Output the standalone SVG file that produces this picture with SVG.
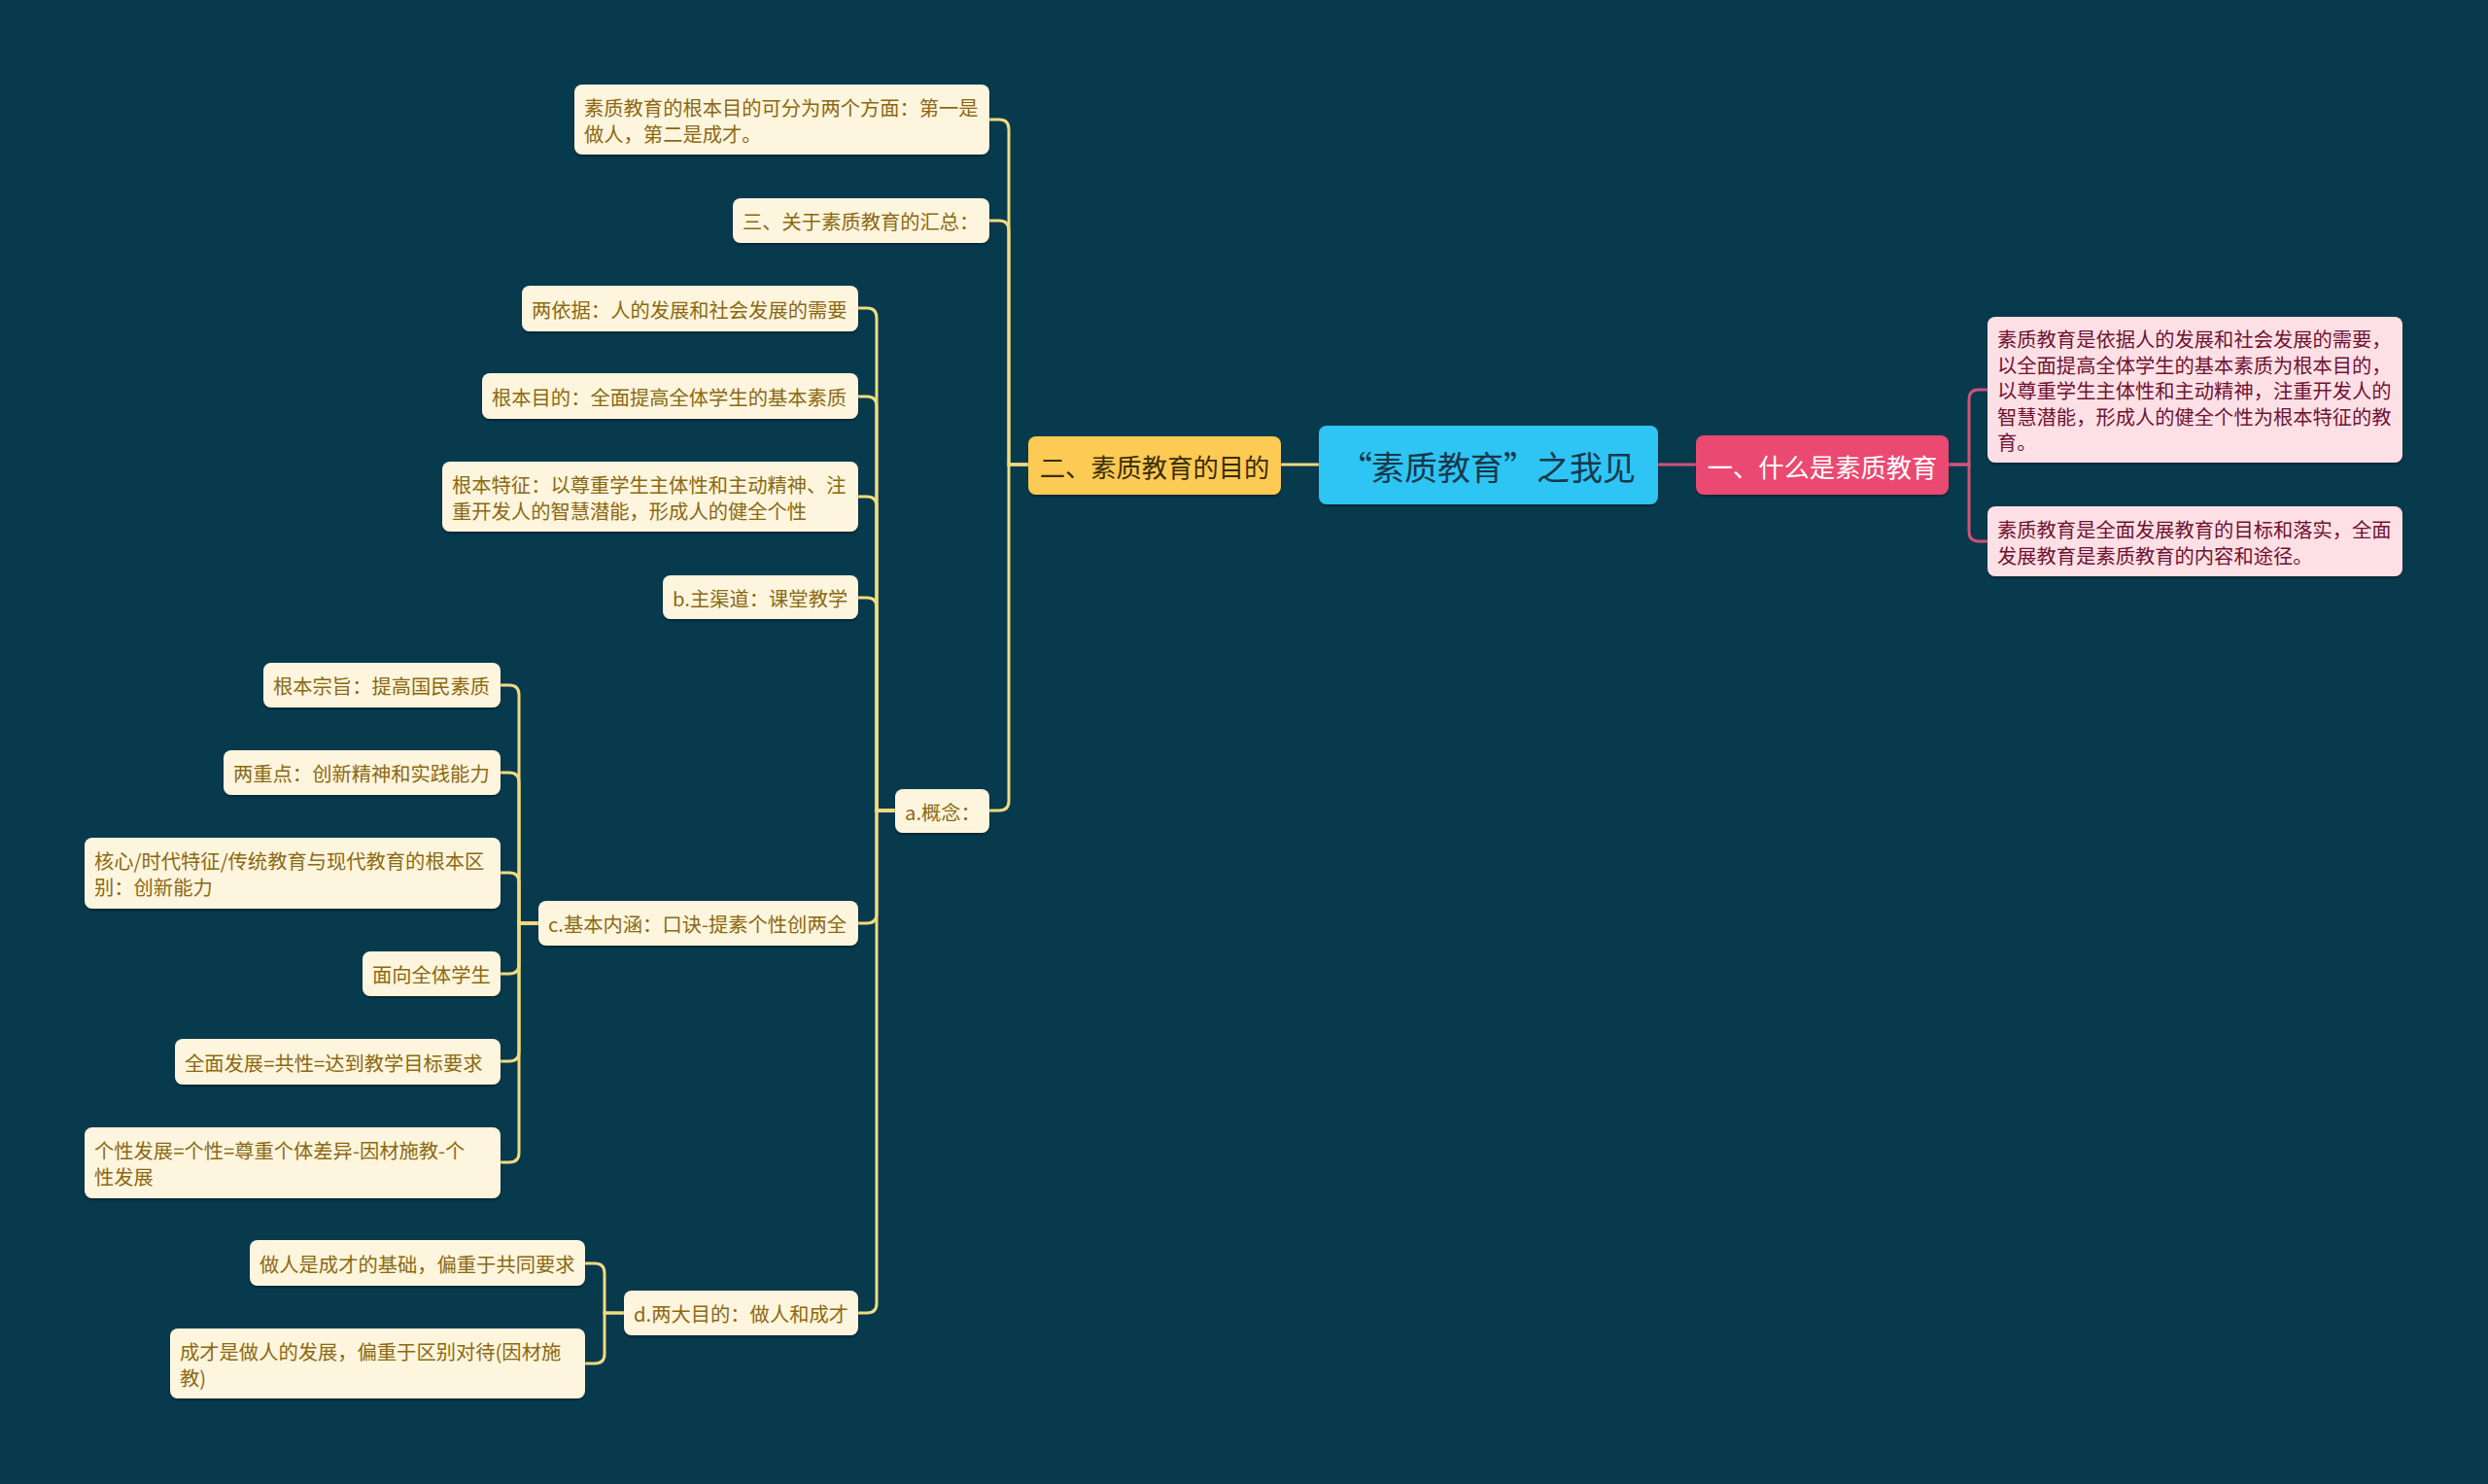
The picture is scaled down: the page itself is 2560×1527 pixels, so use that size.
<svg xmlns="http://www.w3.org/2000/svg" width="2560" height="1527" viewBox="0 0 2560 1527">
<style>
text{font-family:"Noto Sans CJK SC","Noto Sans",sans-serif;dominant-baseline:central}
.yl rect{fill:#fdf5dd}
.yl text{fill:#8b6912;font-size:20.3px}
.pk rect{fill:#fde0e5}
.pk text{fill:#6f1232;font-size:20.3px}
.cy{fill:none;stroke:#f2da80;stroke-width:3}
.cr{fill:none;stroke:#d2527a;stroke-width:3}
</style>
<defs>
<filter id="sh" x="-5%" y="-10%" width="110%" height="130%">
<feDropShadow dx="0" dy="2" stdDeviation="1" flood-color="#000" flood-opacity="0.35"/>
</filter>
</defs>
<rect width="2560" height="1527" fill="#083a4e"/>
<g id="connectors">
<path class="cy" d="M1357,478 H1318"/>
<path class="cr" d="M1706,478 H1745"/>
<path class="cy" d="M1058,478 H1038 V133 Q1038,123 1028,123 H1018"/>
<path class="cy" d="M1058,478 H1038 V237 Q1038,227 1028,227 H1018"/>
<path class="cy" d="M1058,478 H1038 V824 Q1038,834 1028,834 H1018"/>
<path class="cy" d="M921,834 H902 V327 Q902,317 892,317 H883"/>
<path class="cy" d="M921,834 H902 V418 Q902,408 892,408 H883"/>
<path class="cy" d="M921,834 H902 V521 Q902,511 892,511 H883"/>
<path class="cy" d="M921,834 H902 V625 Q902,615 892,615 H883"/>
<path class="cy" d="M921,834 H902 V940 Q902,950 892,950 H883"/>
<path class="cy" d="M921,834 H902 V1341 Q902,1351 892,1351 H883"/>
<path class="cy" d="M554,950 H534 V715 Q534,705 524,705 H515"/>
<path class="cy" d="M554,950 H534 V805 Q534,795 524,795 H515"/>
<path class="cy" d="M554,950 H534 V908 Q534,898 524,898 H515"/>
<path class="cy" d="M554,950 H534 V992 Q534,1002 524,1002 H515"/>
<path class="cy" d="M554,950 H534 V1082 Q534,1092 524,1092 H515"/>
<path class="cy" d="M554,950 H534 V1186 Q534,1196 524,1196 H515"/>
<path class="cy" d="M642,1351 H622 V1310 Q622,1300 612,1300 H602"/>
<path class="cy" d="M642,1351 H622 V1393 Q622,1403 612,1403 H602"/>
<path class="cr" d="M2005,478 H2026 V411 Q2026,401 2036,401 H2045"/>
<path class="cr" d="M2005,478 H2026 V547 Q2026,557 2036,557 H2045"/>
</g>
<g id="root">
<rect x="1357" y="438" width="349" height="81" rx="8" fill="#2ec4f4" filter="url(#sh)"/>
<text y="479" font-size="34" fill="#17384a"><tspan x="1378">“</tspan><tspan x="1411">素质教育”之我见</tspan></text>
</g>
<g id="n1">
<rect x="1745" y="448" width="260" height="61" rx="8" fill="#ea4871" filter="url(#sh)"/>
<text x="1875" y="479" font-size="26.3" fill="#ffffff" text-anchor="middle">一、什么是素质教育</text>
</g>
<g id="n2">
<rect x="1058" y="449" width="260" height="60" rx="8" fill="#fdca52" filter="url(#sh)"/>
<text x="1188" y="479" font-size="26.3" fill="#3a2c08" text-anchor="middle">二、素质教育的目的</text>
</g>
<g id="p1" class="pk">
<rect x="2045" y="326" width="427" height="150" rx="8" filter="url(#sh)"/>
<text x="2055" y="348">素质教育是依据人的发展和社会发展的需要，</text>
<text x="2055" y="374.5">以全面提高全体学生的基本素质为根本目的，</text>
<text x="2055" y="401">以尊重学生主体性和主动精神，注重开发人的</text>
<text x="2055" y="427.5">智慧潜能，形成人的健全个性为根本特征的教</text>
<text x="2055" y="454">育。</text>
</g>
<g id="p2" class="pk">
<rect x="2045" y="521" width="427" height="72" rx="8" filter="url(#sh)"/>
<text x="2055" y="543.5">素质教育是全面发展教育的目标和落实，全面</text>
<text x="2055" y="570.5">发展教育是素质教育的内容和途径。</text>
</g>
<g id="y1" class="yl">
<rect x="591" y="87" width="427" height="72" rx="8" filter="url(#sh)"/>
<text x="601" y="109.5">素质教育的根本目的可分为两个方面：第一是</text>
<text x="601" y="136.5">做人，第二是成才。</text>
</g>
<g id="y2" class="yl">
<rect x="754" y="204" width="264" height="46" rx="8" filter="url(#sh)"/>
<text x="764" y="227">三、关于素质教育的汇总：</text>
</g>
<g id="ya" class="yl">
<rect x="921" y="812" width="97" height="45" rx="8" filter="url(#sh)"/>
<text x="931" y="834.5">a.概念：</text>
</g>
<g id="ya1" class="yl">
<rect x="537" y="294" width="346" height="47" rx="8" filter="url(#sh)"/>
<text x="547" y="317.5">两依据：人的发展和社会发展的需要</text>
</g>
<g id="ya2" class="yl">
<rect x="496" y="384" width="387" height="47" rx="8" filter="url(#sh)"/>
<text x="506" y="407.5">根本目的：全面提高全体学生的基本素质</text>
</g>
<g id="ya3" class="yl">
<rect x="455" y="475" width="428" height="72" rx="8" filter="url(#sh)"/>
<text x="465" y="497.5">根本特征：以尊重学生主体性和主动精神、注</text>
<text x="465" y="524.5">重开发人的智慧潜能，形成人的健全个性</text>
</g>
<g id="yb" class="yl">
<rect x="682" y="592" width="201" height="45" rx="8" filter="url(#sh)"/>
<text x="692" y="614.5">b.主渠道：课堂教学</text>
</g>
<g id="yc" class="yl">
<rect x="554" y="927" width="329" height="46" rx="8" filter="url(#sh)"/>
<text x="564" y="950">c.基本内涵：口诀-提素个性创两全</text>
</g>
<g id="yc1" class="yl">
<rect x="271" y="682" width="244" height="46" rx="8" filter="url(#sh)"/>
<text x="281" y="705">根本宗旨：提高国民素质</text>
</g>
<g id="yc2" class="yl">
<rect x="230" y="772" width="285" height="46" rx="8" filter="url(#sh)"/>
<text x="240" y="795">两重点：创新精神和实践能力</text>
</g>
<g id="yc3" class="yl">
<rect x="87" y="862" width="428" height="73" rx="8" filter="url(#sh)"/>
<text x="97" y="885">核心/时代特征/传统教育与现代教育的根本区</text>
<text x="97" y="912">别：创新能力</text>
</g>
<g id="yc4" class="yl">
<rect x="373" y="979" width="142" height="46" rx="8" filter="url(#sh)"/>
<text x="383" y="1002">面向全体学生</text>
</g>
<g id="yc5" class="yl">
<rect x="180" y="1069" width="335" height="47" rx="8" filter="url(#sh)"/>
<text x="190" y="1092.5">全面发展=共性=达到教学目标要求</text>
</g>
<g id="yc6" class="yl">
<rect x="87" y="1160" width="428" height="73" rx="8" filter="url(#sh)"/>
<text x="97" y="1183">个性发展=个性=尊重个体差异-因材施教-个</text>
<text x="97" y="1210">性发展</text>
</g>
<g id="yd" class="yl">
<rect x="642" y="1328" width="241" height="46" rx="8" filter="url(#sh)"/>
<text x="652" y="1351">d.两大目的：做人和成才</text>
</g>
<g id="yd1" class="yl">
<rect x="257" y="1276" width="345" height="47" rx="8" filter="url(#sh)"/>
<text x="267" y="1299.5">做人是成才的基础，偏重于共同要求</text>
</g>
<g id="yd2" class="yl">
<rect x="175" y="1367" width="427" height="72" rx="8" filter="url(#sh)"/>
<text x="185" y="1389.5">成才是做人的发展，偏重于区别对待(因材施</text>
<text x="185" y="1416.5">教)</text>
</g>
</svg>
